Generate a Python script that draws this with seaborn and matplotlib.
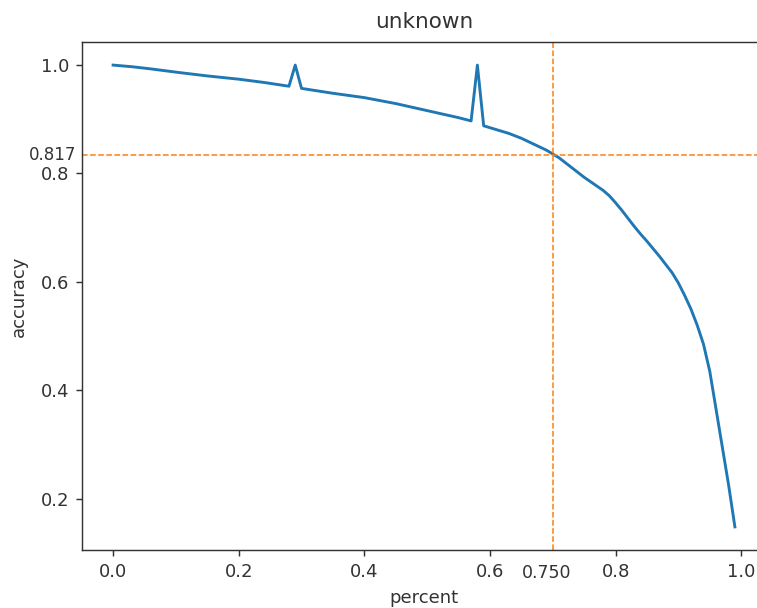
import matplotlib
matplotlib.use("Agg")
import matplotlib.pyplot as plt
import seaborn as sns
import pandas as pd

# data
percent = [0.00, 0.03, 0.06, 0.10, 0.15, 0.20, 0.24, 0.28, 0.29, 0.30,
           0.35, 0.40, 0.45, 0.50, 0.55, 0.57, 0.58, 0.59, 0.61, 0.63,
           0.65, 0.67, 0.69, 0.70, 0.71, 0.72, 0.73, 0.74, 0.75, 0.76,
           0.77, 0.78, 0.79, 0.80, 0.81, 0.82, 0.83, 0.84, 0.85, 0.86,
           0.87, 0.88, 0.89, 0.90, 0.91, 0.92, 0.93, 0.94, 0.95, 0.96,
           0.97, 0.98, 0.99]
accuracy = [1.000, 0.997, 0.993, 0.987, 0.980, 0.974, 0.968, 0.961, 1.000, 0.957,
            0.948, 0.940, 0.929, 0.916, 0.903, 0.897, 1.000, 0.888, 0.881, 0.874,
            0.865, 0.854, 0.843, 0.836, 0.829, 0.820, 0.811, 0.802, 0.793, 0.785,
            0.777, 0.769, 0.759, 0.746, 0.732, 0.717, 0.702, 0.688, 0.675, 0.661,
            0.647, 0.632, 0.617, 0.598, 0.575, 0.550, 0.520, 0.485, 0.435, 0.365,
            0.295, 0.225, 0.148]

cut_x_pos = 0.70
cut_y_pos = 0.835
cut_x_label = "0.750"
cut_y_label = "0.817"

df = pd.DataFrame({"percent": percent, "accuracy": accuracy})

s = 1.3  # overall scale of the reference
fig = plt.figure(figsize=(7.57, 6.08), dpi=100)
ax = fig.add_axes([82 / 757, 1 - 550 / 608, 684 / 757, 508 / 608])

sns.lineplot(data=df, x="percent", y="accuracy", ax=ax, color="#1f77b4", lw=1.6 * s)

ax.axvline(cut_x_pos, color="#ff7f0e", ls="--", lw=1.1)
ax.axhline(cut_y_pos, color="#ff7f0e", ls="--", lw=1.1)

ax.set_xticks([0.0, 0.2, 0.4, 0.6, 0.8, 1.0])
ax.set_yticks([0.2, 0.4, 0.6, 0.8, 1.0])
ax.tick_params(labelsize=13, length=3.5 * s, width=0.8 * s, pad=3.5 * s,
               labelcolor="#333333", color="#333333")
for sp in ax.spines.values():
    sp.set_linewidth(0.8 * s)
    sp.set_edgecolor("#333333")
ax.spines["right"].set_visible(False)

ax.text(-0.008, cut_y_pos, cut_y_label, transform=ax.get_yaxis_transform(),
        ha="right", va="center", fontsize=12, color="#333333")
ax.text(cut_x_pos - 0.01, -0.027, cut_x_label, transform=ax.get_xaxis_transform(),
        ha="center", va="top", fontsize=12.5, color="#333333")

ax.set_title("unknown", fontsize=15.5, pad=10, color="#333333")
ax.set_xlabel("percent", fontsize=13, labelpad=6, color="#333333")
ax.set_ylabel("accuracy", fontsize=13, labelpad=9, color="#333333")

fig.savefig("out.png", dpi=100)
